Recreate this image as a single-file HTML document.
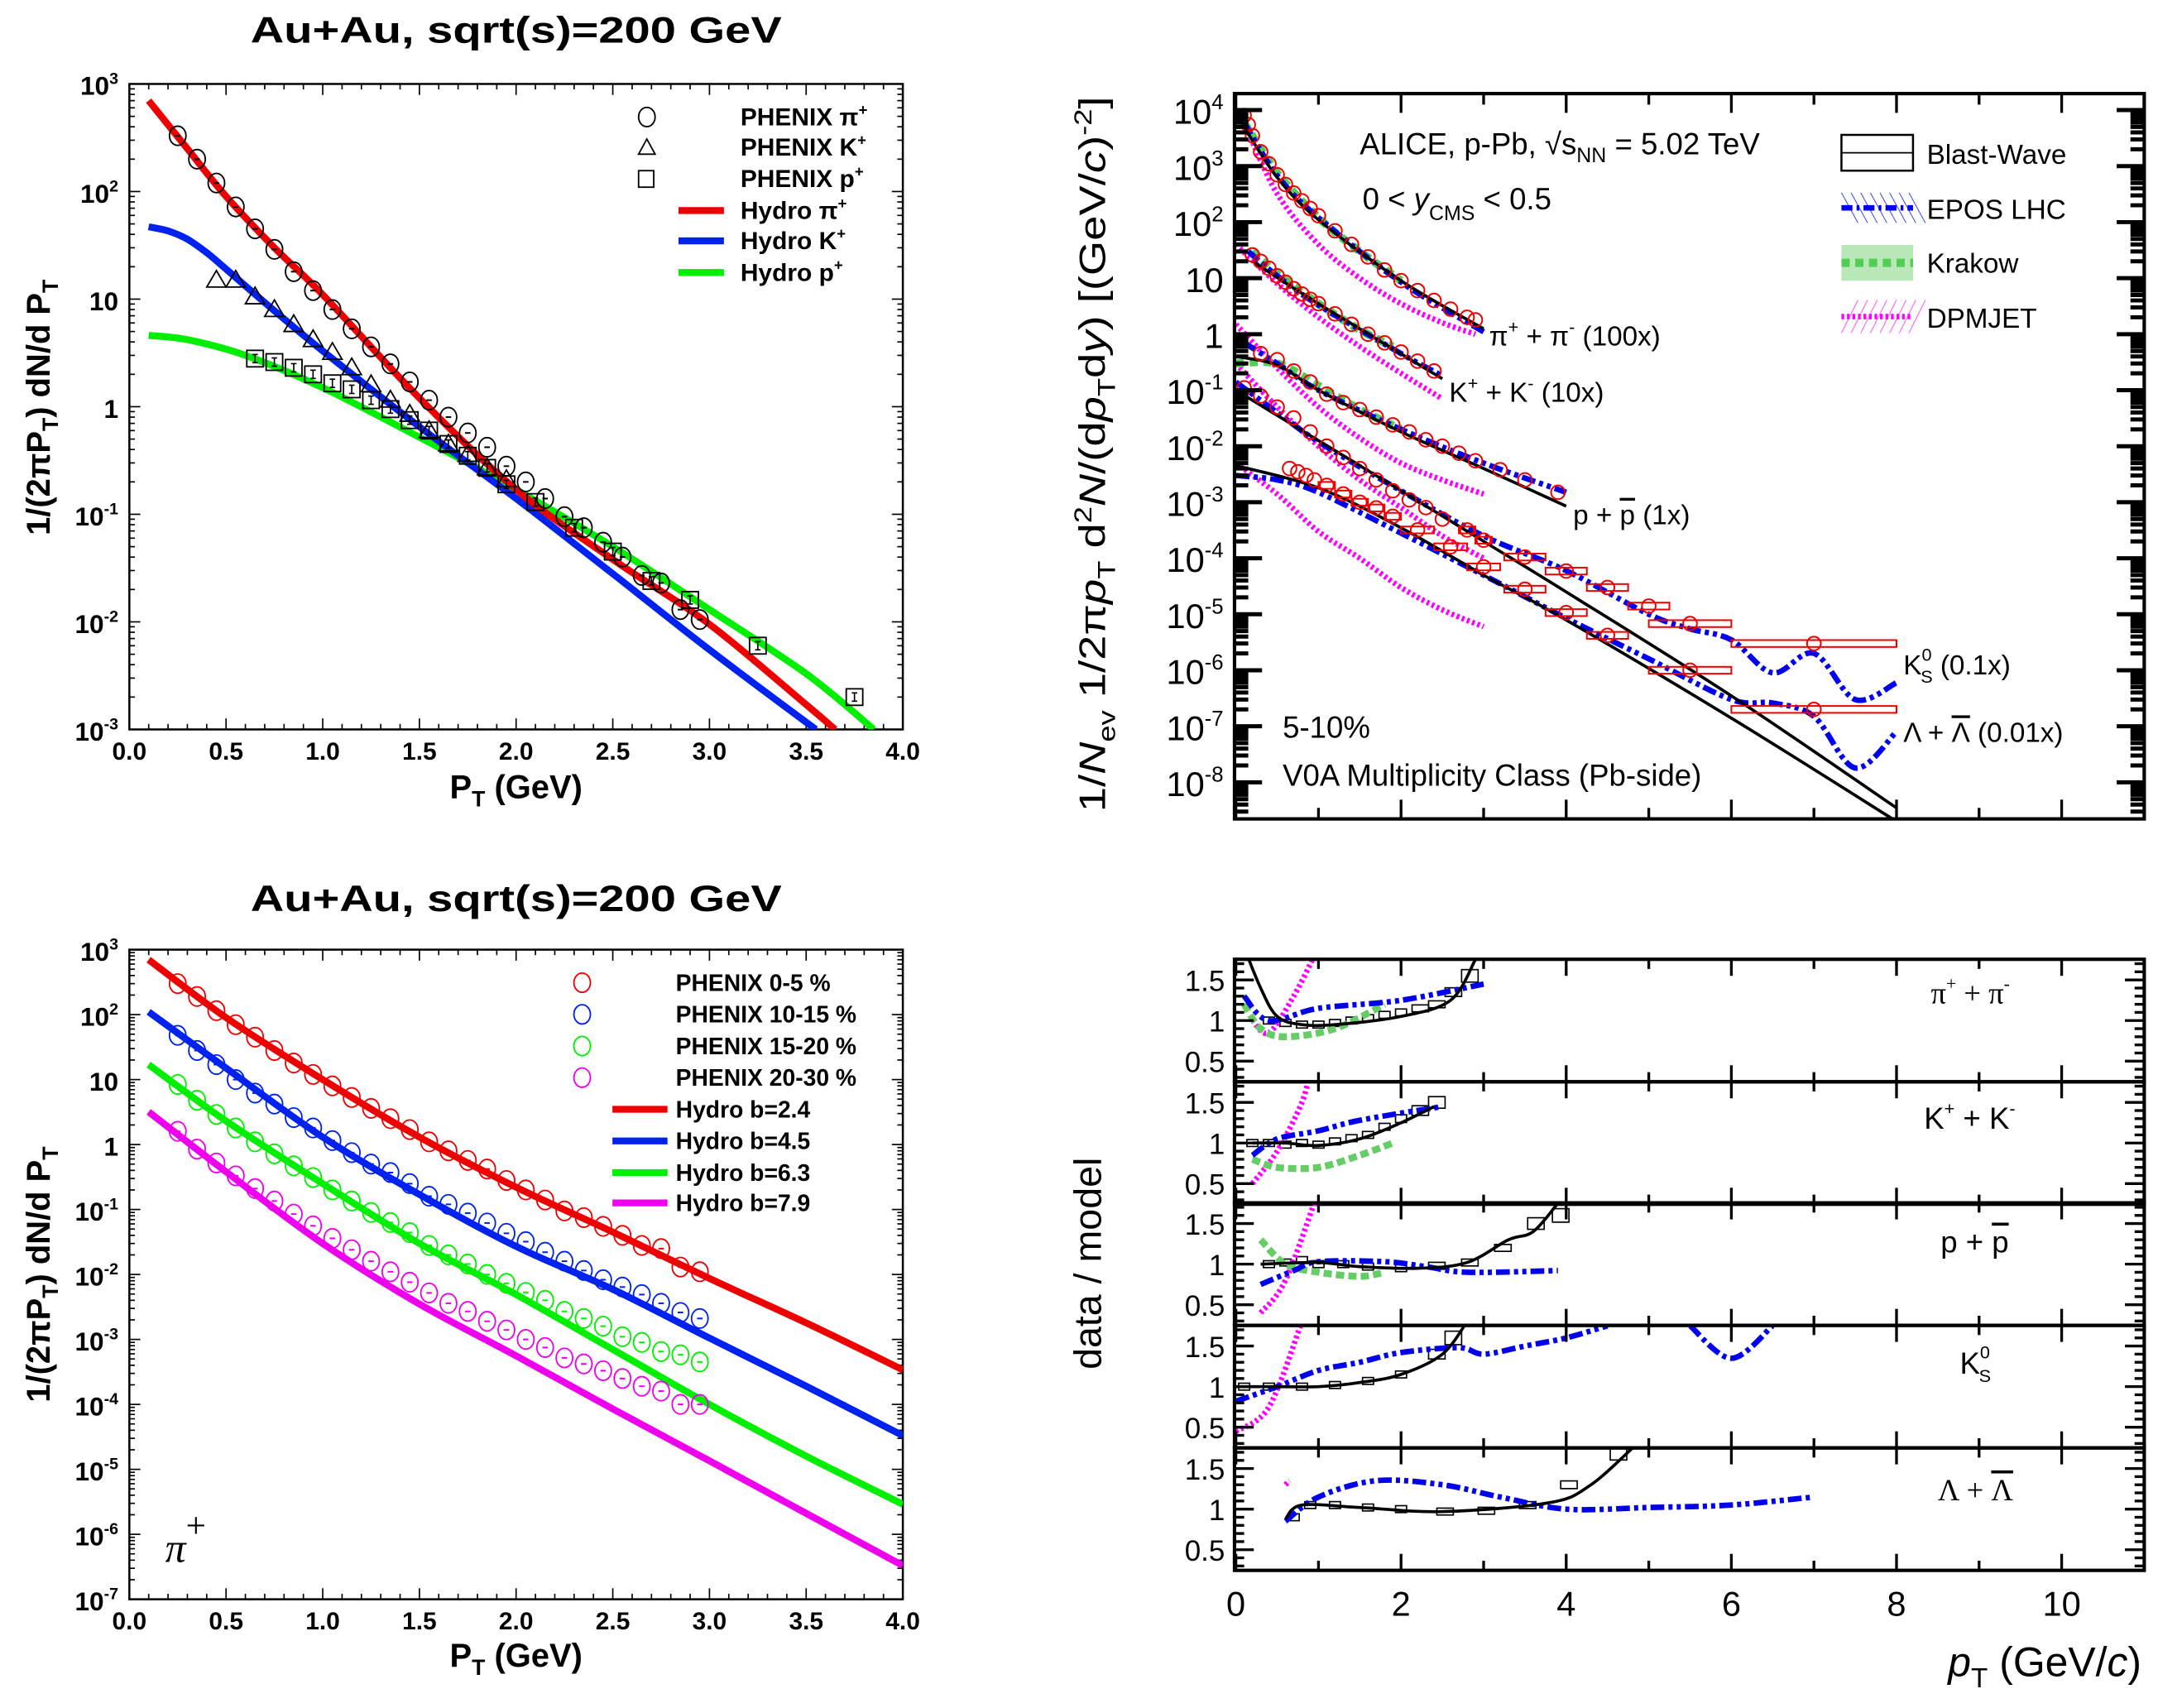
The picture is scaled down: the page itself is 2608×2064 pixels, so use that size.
<!DOCTYPE html>
<html><head><meta charset="utf-8"><style>
html,body{margin:0;padding:0;background:#fff}
svg{display:block}
.b{font-family:"Liberation Sans",sans-serif;font-weight:bold}
.n{font-family:"Liberation Sans",sans-serif}
</style></head><body>
<svg id="fig" xmlns="http://www.w3.org/2000/svg" width="2608" height="2064" viewBox="0 0 1568 1241" preserveAspectRatio="none">
<rect x="0" y="0" width="1568" height="1241" fill="#fff"/>
<g id="gA"></g>
<g id="gC"></g>
<g id="gB"></g>
<g id="gD"></g>

<text class="b" x="375" y="31" font-size="27" text-anchor="middle" textLength="386" lengthAdjust="spacingAndGlyphs">Au+Au, sqrt(s)=200 GeV</text>
<text class="b" x="375" y="662" font-size="27" text-anchor="middle" textLength="386" lengthAdjust="spacingAndGlyphs">Au+Au, sqrt(s)=200 GeV</text>
<text class="b" x="375" y="580" font-size="24" text-anchor="middle">P<tspan font-size="16" dy="6">T</tspan><tspan dy="-6"> (GeV)</tspan></text>
<text class="b" x="375" y="1211" font-size="24" text-anchor="middle">P<tspan font-size="16" dy="6">T</tspan><tspan dy="-6"> (GeV)</tspan></text>
<text class="b" transform="translate(36,296) rotate(-90)" font-size="24" text-anchor="middle">1/(2πP<tspan font-size="16" dy="6">T</tspan><tspan dy="-6">) dN/d P</tspan><tspan font-size="16" dy="6">T</tspan></text>
<text class="b" transform="translate(36,926) rotate(-90)" font-size="24" text-anchor="middle">1/(2πP<tspan font-size="16" dy="6">T</tspan><tspan dy="-6">) dN/d P</tspan><tspan font-size="16" dy="6">T</tspan></text>
<text x="120" y="1135" font-size="30" font-style="italic" font-family="Liberation Serif,serif">π<tspan dy="-18" font-size="26" font-style="normal">+</tspan></text>

<text class="n" transform="translate(803,330) rotate(-90)" font-size="27" text-anchor="middle" textLength="520" lengthAdjust="spacingAndGlyphs">1/<tspan font-style="italic">N</tspan><tspan font-size="18" dy="7">ev</tspan><tspan dy="-7">  1/2π</tspan><tspan font-style="italic">p</tspan><tspan font-size="18" dy="7">T</tspan><tspan dy="-7"> d</tspan><tspan font-size="18" dy="-10">2</tspan><tspan dy="10" font-style="italic">N</tspan><tspan>/(d</tspan><tspan font-style="italic">p</tspan><tspan font-size="18" dy="7">T</tspan><tspan dy="-7">d</tspan><tspan font-style="italic">y</tspan><tspan>) [(GeV/</tspan><tspan font-style="italic">c</tspan><tspan>)</tspan><tspan font-size="18" dy="-10">-2</tspan><tspan dy="10">]</tspan></text>
<text class="n" x="988" y="112" font-size="22">ALICE, p-Pb, √s<tspan font-size="15" dy="6">NN</tspan><tspan dy="-6"> = 5.02 TeV</tspan></text>
<text class="n" x="990" y="152" font-size="22">0 &lt; <tspan font-style="italic">y</tspan><tspan font-size="15" dy="8">CMS</tspan><tspan dy="-8"> &lt; 0.5</tspan></text>
<text class="n" x="932" y="536" font-size="22">5-10%</text>
<text class="n" x="932" y="571" font-size="22">V0A Multiplicity Class (Pb-side)</text>
<text class="n" x="1082" y="251" font-size="20">π<tspan font-size="13" dy="-9">+</tspan><tspan dy="9"> + π</tspan><tspan font-size="13" dy="-9">-</tspan><tspan dy="9"> (100x)</tspan></text>
<text class="n" x="1053" y="292" font-size="20">K<tspan font-size="13" dy="-9">+</tspan><tspan dy="9"> + K</tspan><tspan font-size="13" dy="-9">-</tspan><tspan dy="9"> (10x)</tspan></text>
<text class="n" x="1143" y="381" font-size="20">p + <tspan text-decoration="overline">p</tspan> (1x)</text>
<text class="n" x="1383" y="490" font-size="20">K<tspan font-size="13" dy="-10">0</tspan><tspan font-size="13" dx="-8" dy="16">S</tspan><tspan dy="-6"> (0.1x)</tspan></text>
<text class="n" x="1383" y="539" font-size="20">Λ + <tspan text-decoration="overline">Λ</tspan> (0.01x)</text>
<text class="n" x="1400" y="119" font-size="20">Blast-Wave</text>
<text class="n" x="1400" y="159" font-size="20">EPOS LHC</text>
<text class="n" x="1400" y="198" font-size="20">Krakow</text>
<text class="n" x="1400" y="238" font-size="20">DPMJET</text>

<text class="n" transform="translate(800,918) rotate(-90)" font-size="28" text-anchor="middle">data / model</text>
<text class="n" x="1556" y="1218" font-size="30" text-anchor="end"><tspan font-style="italic">p</tspan><tspan font-size="20" dy="8">T</tspan><tspan dy="-8"> (GeV/</tspan><tspan font-style="italic">c</tspan>)</text>
<text x="1403" y="729" font-size="22" font-family="Liberation Serif,serif">π<tspan font-size="13" dy="-10">+</tspan><tspan dy="10"> + π</tspan><tspan font-size="13" dy="-10">-</tspan></text>
<text class="n" x="1398" y="820" font-size="22">K<tspan font-size="13" dy="-10">+</tspan><tspan dy="10"> + K</tspan><tspan font-size="13" dy="-10">-</tspan></text>
<text class="n" x="1410" y="910" font-size="22">p + <tspan text-decoration="overline">p</tspan></text>
<text class="n" x="1424" y="998" font-size="22">K<tspan font-size="13" dy="-11">0</tspan><tspan font-size="13" dx="-8" dy="17">S</tspan></text>
<text x="1408" y="1090" font-size="22" font-family="Liberation Serif,serif">Λ + <tspan text-decoration="overline">Λ</tspan></text>
</svg>
<script>
// ---------- Panel A data ----------
const aPtPion=[0.25,0.35,0.45,0.55,0.65,0.75,0.85,0.95,1.05,1.15,1.25,1.35,1.45,1.55,1.65,1.75,1.85,1.95,2.05,2.15,2.25,2.35,2.45,2.55,2.65,2.75,2.85,2.95];
const aPion=[330,200,120,72,45,29,18,12,8,5.3,3.6,2.5,1.7,1.15,0.8,0.57,0.42,0.28,0.2,0.14,0.095,0.075,0.055,0.04,0.027,0.023,0.013,0.0105];
const aPtKaon=[0.45,0.55,0.65,0.75,0.85,0.95,1.05,1.15,1.25,1.35,1.45,1.55,1.65,1.75,1.85,1.95];
const aKaon=[15,15,10.5,8,5.8,4.2,3.2,2.3,1.6,1.15,0.85,0.6,0.45,0.36,0.27,0.21];
const aPtProton=[0.65,0.75,0.85,0.95,1.05,1.15,1.25,1.35,1.45,1.55,1.65,1.75,1.85,1.95,2.1,2.3,2.5,2.7,2.9,3.25,3.75];
const aProton=[2.8,2.6,2.3,2.0,1.65,1.45,1.15,0.95,0.75,0.6,0.45,0.35,0.27,0.19,0.13,0.075,0.045,0.024,0.016,0.006,0.002];
const aHydroPt=[0.1,0.3,0.5,0.75,1.0,1.5,2.0,2.5,3.0,3.5,3.65];
const aHydroPion=[700,250,90,30,11,1.2,0.17,0.038,0.0095,0.0017,0.001];
const aHydroKPt=[0.1,0.2,0.3,0.4,0.5,0.75,1.0,1.5,2.0,2.5,3.0,3.55];
const aHydroKaon=[47,43,36,27,19,7.8,3.3,0.65,0.14,0.028,0.0055,0.001];
const aHydroPPt=[0.1,0.3,0.6,1.0,1.5,2.0,2.5,3.0,3.5,3.85];
const aHydroProton=[4.6,4.2,3.0,1.5,0.52,0.17,0.05,0.013,0.0033,0.001];
// ---------- Panel C data ----------
const cPt=[0.25,0.35,0.45,0.55,0.65,0.75,0.85,0.95,1.05,1.15,1.25,1.35,1.45,1.55,1.65,1.75,1.85,1.95,2.05,2.15,2.25,2.35,2.45,2.55,2.65,2.75,2.85,2.95];
const c0005=[300,190,115,70,45,28,18,12,8,5.3,3.6,2.5,1.7,1.1,0.8,0.57,0.42,0.28,0.2,0.14,0.095,0.075,0.055,0.04,0.028,0.025,0.013,0.011];
const c1015=[48,28,17,10,6.2,4.2,2.6,1.8,1.15,0.75,0.5,0.37,0.25,0.16,0.12,0.088,0.062,0.043,0.032,0.022,0.016,0.0115,0.0083,0.0064,0.0049,0.0036,0.0026,0.0021];
const c1520=[8.4,4.8,2.9,1.8,1.1,0.72,0.47,0.31,0.2,0.135,0.09,0.063,0.044,0.028,0.02,0.0145,0.01,0.0073,0.0053,0.004,0.0027,0.0021,0.0016,0.0011,0.0009,0.00065,0.00058,0.00045];
const c2030=[1.6,0.85,0.52,0.33,0.21,0.135,0.085,0.056,0.036,0.024,0.016,0.011,0.0076,0.0052,0.0036,0.0027,0.0019,0.0014,0.001,0.00075,0.00052,0.00042,0.00033,0.00025,0.00019,0.00016,0.0001,0.0001];
const cHydroPt=[0.1,0.5,1.0,1.5,2.0,2.5,3.0,3.5,4.0];
const cHydroB24=[700,90,10,1.3,0.22,0.045,0.0087,0.0018,0.00034];
const cHydroB45=[110,15,1.3,0.17,0.027,0.0059,0.00105,0.00019,0.000033];
const cHydroB63=[17,2.3,0.25,0.03,0.0049,0.0007,0.0001,0.000016,0.0000029];
const cHydroB79=[3.2,0.38,0.03,0.0035,0.00056,0.000085,0.0000135,0.0000021,0.00000033];
// ---------- Panel B data (values already scaled) ----------
const bPtPion=[0.1,0.15,0.2,0.3,0.4,0.5,0.6,0.7,0.8,0.9,1.0,1.2,1.4,1.6,1.8,2.0,2.2,2.4,2.6,2.8,2.9];
const bPion=[8000,5500,3500,1800,1100,700,470,330,240,175,130,70,40,24,14,9,6,4,2.8,2.0,1.8];
const bPtKaon=[0.2,0.3,0.4,0.5,0.6,0.7,0.8,0.9,1.0,1.2,1.4,1.6,1.8,2.0,2.2,2.4];
const bKaon=[26,20,15,11,8.5,6.5,5.2,4.2,3.5,2.3,1.5,1.0,0.7,0.48,0.33,0.22];
const bPtProton=[0.3,0.5,0.7,0.9,1.1,1.3,1.5,1.7,1.9,2.1,2.3,2.5,2.7,2.9,3.2,3.5,3.9];
const bProton=[0.45,0.35,0.22,0.14,0.085,0.06,0.045,0.033,0.024,0.018,0.013,0.01,0.0075,0.0055,0.0038,0.0025,0.0015];
const bPtK0s=[0.1,0.3,0.5,0.7,0.9,1.1,1.3,1.5,1.7,1.9,2.1,2.3,2.5,2.8,3.0,3.5,4.0,4.5,5.0,5.5,7.0];
const bK0s=[0.11,0.079,0.05,0.032,0.018,0.01,0.0063,0.004,0.0025,0.0016,0.0011,0.0008,0.0005,0.00032,0.00021,0.000105,0.000059,0.00003,0.000014,0.0000068,0.000003];
const bK0sHalfWidth=[0.05,0.05,0.05,0.05,0.05,0.05,0.05,0.05,0.05,0.05,0.05,0.05,0.05,0.1,0.1,0.25,0.25,0.25,0.25,0.5,1.0];
const bPtLambda=[0.65,0.75,0.85,0.95,1.1,1.3,1.5,1.7,1.9,2.2,2.6,3.0,3.5,4.0,4.5,5.5,7.0];
const bLambda=[0.004,0.0035,0.003,0.0025,0.002,0.0014,0.001,0.00079,0.00056,0.00032,0.00016,0.00007,0.000028,0.0000107,0.0000042,0.000001,0.0000002];
const bLambdaHalfWidth=[0.05,0.05,0.05,0.05,0.1,0.1,0.1,0.1,0.1,0.2,0.2,0.2,0.25,0.25,0.25,0.5,1.0];
const bwPionPt=[0.1,0.5,1,2,3], bwPion=[5000,630,110,9,1.25];
const bwKaonPt=[0.2,1,2.5], bwKaon=[20,3.5,0.16];
const bwProtonPt=[0,0.5,1,2,3,4], bwProton=[0.4,0.28,0.1,0.018,0.004,0.00085];
const bwK0sPt=[0,1,2,3,4,6,8], bwK0s=[0.1,0.0126,0.0016,0.0002,0.000025,0.00000035,0.0000000035];
const bwLambdaPt=[0,1,2,3,4,6,8], bwLambda=[0.0045,0.0018,0.00035,0.00005,0.0000079,0.00000014,0.000000002];
const eposPionPt=[0.1,0.5,1,2,3], eposPion=[6000,680,120,8.5,1.1];
const eposKaonPt=[0.15,0.5,1,2,2.5], eposKaon=[30,11,3.3,0.45,0.18];
const eposProtonPt=[0.1,0.5,1,2,3,4], eposProton=[0.7,0.3,0.1,0.02,0.005,0.0015];
const eposK0sPt=[0,0.5,1,2,3,4,5,5.5,6,6.5,7,7.5,8], eposK0s=[0.14,0.04,0.012,0.0016,0.00025,0.00006,0.00001,0.0000055,0.0000035,0.0000009,0.000002,0.0000003,0.0000006];
const eposLambdaPt=[0,0.5,1,2,3,4,5,6,6.5,7,7.5,8], eposLambda=[0.003,0.0025,0.0015,0.00028,0.00005,0.0000085,0.0000016,0.0000003,0.00000026,0.00000015,0.000000018,0.00000008];
const krakowPionPt=[0.1,0.5,1,1.5,2], krakowPion=[6000,750,120,30,9];
const krakowKaonPt=[0.2,0.5,1,1.5,1.9], krakowKaon=[30,12,3.5,1.2,0.6];
const krakowProtonPt=[0,0.5,1,1.5,2], krakowProton=[0.3,0.3,0.12,0.045,0.02];
const dpmPionPt=[0.1,0.5,1,1.5,2,2.5,2.9], dpmPion=[6000,320,40,10,3.5,1.6,1.0];
const dpmKaonPt=[0,0.5,1,1.5,2,2.5], dpmKaon=[40,8,2,0.6,0.2,0.07];
const dpmProtonPt=[0,0.5,1,1.5,2,2.5,3], dpmProton=[1.5,0.25,0.05,0.014,0.005,0.0025,0.0014];
const dpmK0sPt=[0,0.5,1,1.5,2,2.5,3], dpmK0s=[0.3,0.05,0.01,0.0025,0.0008,0.00025,0.0001];
const dpmLambdaPt=[0,0.5,1,1.5,2,2.5,3], dpmLambda=[0.005,0.0014,0.0003,0.0001,0.00003,0.000012,0.000006];
// ---------- Panel D data (ratios) ----------
const rBwPt=[[0.1,0.3,0.5,0.8,1.2,2,2.6,2.9],[0.2,0.6,1,1.5,2,2.4],[0.3,1,1.5,2.2,2.8,3.3,3.6,3.9],[0,0.5,1,1.5,2,2.5,2.8],[0.6,0.8,1.5,2.5,3.8,4.3,4.8]];
const rBw=[[1.9,1.4,1.05,0.95,0.95,1.05,1.25,1.75],[1.0,1.0,0.97,1.05,1.25,1.45],[1.0,1.02,0.97,0.95,1.02,1.3,1.4,1.75],[1.0,1.0,1.0,1.05,1.15,1.4,1.8],[0.88,1.05,1.02,0.97,1.08,1.3,1.75]];
const rEposPt=[[0.1,0.4,1,2,3],[0.2,0.5,1,1.5,2.5],[0.3,0.7,1,1.8,2.3,2.8,3.9],[0,0.5,1,1.5,2,2.7,3.0,3.5,4,4.5],[0.6,1,1.7,2.5,3.2,4,5,6,7]];
const rEpos=[[1.3,1.0,1.15,1.25,1.45],[0.85,1.05,1.15,1.28,1.45],[0.75,0.92,1.03,1.03,0.97,0.9,0.92],[0.82,1.0,1.2,1.3,1.42,1.48,1.4,1.5,1.6,1.75],[0.85,1.15,1.35,1.3,1.15,1.0,1.02,1.05,1.15]];
const rEposK0sTailPt=[5.5,6,6.5], rEposK0sTail=[1.75,1.35,1.75];
const rKrakowPt=[[0.1,0.3,0.6,1.2,1.8],[0.2,0.5,1,1.5,1.9],[0.3,0.6,1,1.5,1.8]];
const rKrakow=[[1.2,0.9,0.8,0.9,1.2],[0.8,0.7,0.7,0.85,1.0],[1.3,1.0,0.9,0.85,0.9]];
const rDpmPt=[[0.2,0.4,0.7,1.0],[0.2,0.5,0.8,0.9],[0.3,0.6,1.0],[0,0.4,0.8],[0.6,0.65]];
const rDpm=[[1.0,0.85,1.3,1.9],[0.5,0.9,1.5,1.9],[0.4,0.8,1.9],[0.45,0.75,1.8],[1.3,1.35]];
const rBoxPt=[[0.4,0.6,0.8,1.0,1.2,1.4,1.6,1.8,2.0,2.2,2.4,2.6,2.8],[0.2,0.4,0.6,0.8,1.0,1.2,1.4,1.6,1.8,2.0,2.2,2.4],[0.4,0.6,0.8,1.0,1.3,1.6,2.0,2.4,2.8,3.2,3.6,3.9],[0.1,0.4,0.8,1.2,1.6,2.0,2.4,2.6],[0.7,0.9,1.2,1.6,2.0,2.5,3.0,3.5,4.0,4.6]];
const rBox=[[1.0,0.97,0.95,0.95,0.97,1.0,1.03,1.07,1.1,1.15,1.2,1.35,1.55],[1.0,1.0,0.98,1.0,0.98,1.02,1.06,1.1,1.2,1.3,1.4,1.5],[1.0,1.02,1.05,1.0,1.0,0.97,0.95,0.98,1.02,1.2,1.5,1.6],[1.0,1.0,1.0,1.02,1.07,1.15,1.4,1.6],[0.9,1.05,1.05,1.02,1.0,0.97,0.98,1.05,1.3,1.7]];

const NS='http://www.w3.org/2000/svg';
function el(parent,tag,attrs,name,inter){
  const e=document.createElementNS(NS,tag);
  for(const k in attrs) e.setAttribute(k,attrs[k]);
  
  
  parent.appendChild(e);return e;
}
const L10=Math.log10;
function crPath(pts){
  if(pts.length<3){return 'M'+pts.map(p=>p[0].toFixed(1)+','+p[1].toFixed(1)).join(' L');}
  let d='M'+pts[0][0].toFixed(1)+','+pts[0][1].toFixed(1);
  for(let i=0;i<pts.length-1;i++){
    const p0=pts[Math.max(0,i-1)],p1=pts[i],p2=pts[i+1],p3=pts[Math.min(pts.length-1,i+2)];
    const c1=[p1[0]+(p2[0]-p0[0])/6,p1[1]+(p2[1]-p0[1])/6],c2=[p2[0]-(p3[0]-p1[0])/6,p2[1]-(p3[1]-p1[1])/6];
    d+=' C'+c1.map(v=>v.toFixed(1))+' '+c2.map(v=>v.toFixed(1))+' '+p2.map(v=>v.toFixed(1));
  }
  return d;
}
function curve(g,xs,ys,X,Y,style,name){
  const pts=xs.map((x,i)=>[X(x),Y(ys[i])]);
  const a=Object.assign({d:crPath(pts),fill:'none'},style);
  return el(g,'path',a,name,false);
}
function supLabel(g,x,y,base,exp,size,anchor,name,bold){
  const t=el(g,'text',{x:x,y:y,'font-size':size,'text-anchor':anchor,'class':bold?'b':'n'},name,false);
  t.textContent=base;
  if(exp!==null){const s=document.createElementNS(NS,'tspan');s.setAttribute('font-size',size*0.62);s.setAttribute('dy',-size*0.42);s.textContent=exp;t.appendChild(s);}
  return t;
}
function logAxisY(g,x0,x1,Y,dmin,dmax,maj,mnr,sw,labelFn,ytop,ybot){
  for(let d=dmin;d<=dmax;d++){
    for(let m=1;m<10;m++){
      const v=Math.pow(10,d)*m; if(L10(v)>dmax+1e-9) break;
      const y=Y(v); if(y<ytop||y>ybot) continue;
      const len=m===1?maj:mnr;
      el(g,'line',{x1:x0,y1:y,x2:x0+len,y2:y,stroke:'#000','stroke-width':sw},'y-tick',false);
      el(g,'line',{x1:x1,y1:y,x2:x1-len,y2:y,stroke:'#000','stroke-width':sw},'y-tick-right',false);
    }
    if(labelFn) labelFn(d,Y(Math.pow(10,d)));
  }
}
function clipRect(id,x,y,w,h){
  const svg=document.getElementById('fig');
  let defs=svg.querySelector('defs'); if(!defs){defs=document.createElementNS(NS,'defs');svg.insertBefore(defs,svg.firstChild);}
  const cp=document.createElementNS(NS,'clipPath');cp.setAttribute('id',id);
  const r=document.createElementNS(NS,'rect');r.setAttribute('x',x);r.setAttribute('y',y);r.setAttribute('width',w);r.setAttribute('height',h);
  cp.appendChild(r);defs.appendChild(cp);
}

// ================= Panel A =================
(function(){
  const g=document.getElementById('gA');
  const x0=94,x1=656,y0=61,y1=530;
  const X=p=>x0+p*(x1-x0)/4, Y=v=>y0+(3-L10(v))*(y1-y0)/6;
  el(g,'rect',{x:x0,y:y0,width:x1-x0,height:y1-y0,fill:'none',stroke:'#000','stroke-width':1.5},'plot-frame',false);
  for(let i=0;i<=40;i++){const p=i*0.1;const len=i%5===0?8:4;
    el(g,'line',{x1:X(p),y1:y1,x2:X(p),y2:y1-len,stroke:'#000','stroke-width':1},'x-tick',false);
    el(g,'line',{x1:X(p),y1:y0,x2:X(p),y2:y0+len,stroke:'#000','stroke-width':1},'x-tick-top',false);
    if(i%5===0){const t=el(g,'text',{x:X(p),y:552,'font-size':18,'text-anchor':'middle','class':'b'},'x-tick-label',false);t.textContent=p.toFixed(1);}
  }
  logAxisY(g,x0,x1,Y,-3,3,8,4,1,(d,y)=>{
    const lab=d===0?['1',null]:d===1?['10',null]:['10',String(d)];
    supLabel(g,86,y+8,lab[0],lab[1],19,'end','y-tick-label',true);
  },y0-1,y1+1);
  const gc=el(g,'g',{'clip-path':'url(#clipA)'},'curves',false);
  clipRect('clipA',x0,y0,x1-x0,y1-y0);
  curve(gc,aHydroPPt,aHydroProton,X,Y,{stroke:'#00ee00','stroke-width':5},'hydro-proton-curve');
  curve(gc,aHydroKPt,aHydroKaon,X,Y,{stroke:'#0022ee','stroke-width':5},'hydro-kaon-curve');
  curve(gc,aHydroPt,aHydroPion,X,Y,{stroke:'#ee0000','stroke-width':5},'hydro-pion-curve');
  aPtPion.forEach((p,i)=>{el(g,'ellipse',{cx:X(p),cy:Y(aPion[i]),rx:6,ry:7,fill:'none',stroke:'#000','stroke-width':1.1},'pion-point',false);
    el(g,'line',{x1:X(p)-2,y1:Y(aPion[i]),x2:X(p)+2,y2:Y(aPion[i]),stroke:'#000','stroke-width':1.2},'pion-error-bar',false);});
  aPtKaon.forEach((p,i)=>{const x=X(p),y=Y(aKaon[i]);el(g,'path',{d:`M${x-7},${y+5} L${x},${y-7} L${x+7},${y+5} Z`,fill:'none',stroke:'#000','stroke-width':1.1},'kaon-point',false);});
  aPtProton.forEach((p,i)=>{const x=X(p),y=Y(aProton[i]);el(g,'rect',{x:x-6,y:y-6,width:12,height:12,fill:'none',stroke:'#000','stroke-width':1.1},'proton-point',false);
    el(g,'line',{x1:x-2,y1:y-3,x2:x+2,y2:y-3,stroke:'#000','stroke-width':1},'proton-error-bar',false);
    el(g,'line',{x1:x,y1:y-3,x2:x,y2:y+3,stroke:'#000','stroke-width':1},'proton-error-bar',false);
    el(g,'line',{x1:x-2,y1:y+3,x2:x+2,y2:y+3,stroke:'#000','stroke-width':1},'proton-error-bar',false);});
  const ly=[91,113,136,159,181,204];
  const names=['PHENIX π','PHENIX K','PHENIX p','Hydro π','Hydro K','Hydro p'];
  const cols=['#ee0000','#0022ee','#00ee00'];
  el(g,'ellipse',{cx:470,cy:ly[0]-6,rx:6,ry:7,fill:'none',stroke:'#000','stroke-width':1.1},'legend-pion-marker',false);
  el(g,'path',{d:`M464,${ly[1]-1} L470,${ly[1]-12} L476,${ly[1]-1} Z`,fill:'none',stroke:'#000','stroke-width':1.1},'legend-kaon-marker',false);
  el(g,'rect',{x:464,y:ly[2]-12,width:11,height:12,fill:'none',stroke:'#000','stroke-width':1.1},'legend-proton-marker',false);
  for(let i=3;i<6;i++) el(g,'line',{x1:493,y1:ly[i]-6,x2:526,y2:ly[i]-6,stroke:cols[i-3],'stroke-width':5},'legend-hydro-line',false);
  names.forEach((n,i)=>{supLabel(g,538,ly[i],n,'+',18,'start','legend-entry',true);});
})();

// ================= Panel C =================
(function(){
  const g=document.getElementById('gC');
  const x0=94,x1=656,y0=690,y1=1162;
  const X=p=>x0+p*(x1-x0)/4, Y=v=>y0+(3-L10(v))*(y1-y0)/10;
  el(g,'rect',{x:x0,y:y0,width:x1-x0,height:y1-y0,fill:'none',stroke:'#000','stroke-width':1.5},'plot-frame',false);
  for(let i=0;i<=40;i++){const p=i*0.1;const len=i%5===0?8:4;
    el(g,'line',{x1:X(p),y1:y1,x2:X(p),y2:y1-len,stroke:'#000','stroke-width':1},'x-tick',false);
    el(g,'line',{x1:X(p),y1:y0,x2:X(p),y2:y0+len,stroke:'#000','stroke-width':1},'x-tick-top',false);
    if(i%5===0){const t=el(g,'text',{x:X(p),y:1184,'font-size':18,'text-anchor':'middle','class':'b'},'x-tick-label',false);t.textContent=p.toFixed(1);}
  }
  logAxisY(g,x0,x1,Y,-7,3,8,4,1,(d,y)=>{
    const lab=d===0?['1',null]:d===1?['10',null]:['10',String(d)];
    supLabel(g,86,y+8,lab[0],lab[1],19,'end','y-tick-label',true);
  },y0-1,y1+1);
  clipRect('clipC',x0,y0,x1-x0,y1-y0);
  const gc=el(g,'g',{'clip-path':'url(#clipC)'},'curves',false);
  const cols=['#ee0000','#0022ee','#00ee00','#ee00ee'];
  const hyd=[cHydroB24,cHydroB45,cHydroB63,cHydroB79], dat=[c0005,c1015,c1520,c2030];
  hyd.forEach((h,k)=>curve(gc,cHydroPt,h,X,Y,{stroke:cols[k],'stroke-width':5},'hydro-curve'));
  dat.forEach((s,k)=>cPt.forEach((p,i)=>{
    el(g,'ellipse',{cx:X(p),cy:Y(s[i]),rx:6,ry:7,fill:'none',stroke:cols[k],'stroke-width':1.1},'data-point',false);
    el(g,'line',{x1:X(p)-2,y1:Y(s[i]),x2:X(p)+2,y2:Y(s[i]),stroke:cols[k],'stroke-width':1.2},'error-bar',false);}));
  const ly=[720,743,766,789,812,835,858,880];
  const names=['PHENIX 0-5 %','PHENIX 10-15 %','PHENIX 15-20 %','PHENIX 20-30 %','Hydro b=2.4','Hydro b=4.5','Hydro b=6.3','Hydro b=7.9'];
  names.forEach((n,i)=>{
    if(i<4) el(g,'ellipse',{cx:423,cy:ly[i]-6,rx:6,ry:7,fill:'none',stroke:cols[i],'stroke-width':1.1},'legend-marker',false);
    else el(g,'line',{x1:445,y1:ly[i]-6,x2:485,y2:ly[i]-6,stroke:cols[i-4],'stroke-width':5},'legend-line',false);
    const t=el(g,'text',{x:491,y:ly[i],'font-size':17,'class':'b'},'legend-entry',false);t.textContent=n;
  });
})();

// ================= Panel B =================
(function(){
  const g=document.getElementById('gB');
  const x0=897,x1=1558,y0=68,y1=595;
  const X=p=>898+p*60, Y=v=>80+(4-L10(v))*40.7;
  clipRect('clipB',x0,y0,x1-x0,y1-y0);
  const gc=el(g,'g',{'clip-path':'url(#clipB)'},'curves',false);
  const mag={stroke:'#ff00ff','stroke-width':4,'stroke-dasharray':'2,2'};
  const blu={stroke:'#0000ee','stroke-width':4,'stroke-dasharray':'10,3,3,3,3,3'};
  const grn={stroke:'#55cc55','stroke-width':6,'stroke-dasharray':'6,4'};
  const blk={stroke:'#000','stroke-width':2.2};
  [[dpmPionPt,dpmPion],[dpmKaonPt,dpmKaon],[dpmProtonPt,dpmProton],[dpmK0sPt,dpmK0s],[dpmLambdaPt,dpmLambda]].forEach(s=>curve(gc,s[0],s[1],X,Y,mag,'dpmjet-curve'));
  [[krakowPionPt,krakowPion],[krakowKaonPt,krakowKaon],[krakowProtonPt,krakowProton]].forEach(s=>curve(gc,s[0],s[1],X,Y,grn,'krakow-curve'));
  [[eposPionPt,eposPion],[eposKaonPt,eposKaon],[eposProtonPt,eposProton],[eposK0sPt,eposK0s],[eposLambdaPt,eposLambda]].forEach(s=>curve(gc,s[0],s[1],X,Y,blu,'epos-curve'));
  [[bwPionPt,bwPion],[bwKaonPt,bwKaon],[bwProtonPt,bwProton],[bwK0sPt,bwK0s],[bwLambdaPt,bwLambda]].forEach(s=>curve(gc,s[0],s[1],X,Y,blk,'blast-wave-curve'));
  const red='#ee0000';
  function pts(ptA,vA,hw){ptA.forEach((p,i)=>{
    const x=X(p),y=Y(vA[i]);
    if(hw&&hw[i]>0.06){el(gc,'rect',{x:X(p-hw[i]),y:y-2.5,width:X(p+hw[i])-X(p-hw[i]),height:5,fill:'none',stroke:red,'stroke-width':1.2},'syst-box',false);}
    el(gc,'circle',{cx:x,cy:y,r:5,fill:'none',stroke:red,'stroke-width':1.2},'data-point',false);
  });}
  pts(bPtPion,bPion);pts(bPtKaon,bKaon);pts(bPtProton,bProton);pts(bPtK0s,bK0s,bK0sHalfWidth);pts(bPtLambda,bLambda,bLambdaHalfWidth);
  el(g,'rect',{x:x0,y:y0,width:x1-x0,height:y1-y0,fill:'none',stroke:'#000','stroke-width':2.5},'plot-frame',false);
  for(let i=0;i<=11;i++){const len=i%2===0?14:8;
    el(g,'line',{x1:X(i),y1:y0,x2:X(i),y2:y0+len,stroke:'#000','stroke-width':2},'x-tick-top',false);
    el(g,'line',{x1:X(i),y1:y1,x2:X(i),y2:y1-len,stroke:'#000','stroke-width':2},'x-tick',false);}
  logAxisY(g,x0,x1,Y,-9,4,20,10,3,(d,y)=>{
    if(d<-8)return;
    const lab=d===0?['1',null]:d===1?['10',null]:['10',String(d)];
    supLabel(g,889,y+10,lab[0],lab[1],25,'end','y-tick-label',false);
  },y0+2,y1-2);
  el(g,'rect',{x:1338,y:98,width:52,height:26,fill:'none',stroke:'#000','stroke-width':1.5},'legend-blast-wave-marker',false);
  el(g,'line',{x1:1338,y1:111,x2:1390,y2:111,stroke:'#000','stroke-width':1},'legend-blast-wave-line',false);
  for(let k=0;k<8;k++) el(g,'line',{x1:1338+k*7,y1:140,x2:1350+k*7,y2:162,stroke:'#3344ff','stroke-width':0.6},'legend-epos-hatch',false);
  el(g,'line',{x1:1338,y1:151,x2:1390,y2:151,stroke:'#0000ee','stroke-width':4,'stroke-dasharray':'8,3,2,3'},'legend-epos-line',false);
  el(g,'rect',{x:1338,y:178,width:52,height:26,fill:'#b8e8b8',stroke:'none'},'legend-krakow-band',false);
  el(g,'line',{x1:1338,y1:191,x2:1390,y2:191,stroke:'#55cc55','stroke-width':6,'stroke-dasharray':'6,4'},'legend-krakow-line',false);
  for(let k=0;k<8;k++) el(g,'line',{x1:1338+k*7,y1:242,x2:1350+k*7,y2:218,stroke:'#ff66ff','stroke-width':0.7},'legend-dpmjet-hatch',false);
  el(g,'line',{x1:1338,y1:230,x2:1390,y2:230,stroke:'#ff00ff','stroke-width':4,'stroke-dasharray':'2,2'},'legend-dpmjet-line',false);
})();

// ================= Panel D =================
(function(){
  const g=document.getElementById('gD');
  const x0=897,x1=1558;
  const X=p=>898+p*60;
  const tops=[697,786,874,963,1052], H=89;
  tops.forEach((t,k)=>{
    const Y=r=>t+15+(1.5-r)*59;
    clipRect('clipD'+k,x0,t,x1-x0,H);
    const gc=el(g,'g',{'clip-path':'url(#clipD'+k+')'},'ratio-subpanel-'+k,false);
    rBoxPt[k].forEach((p,i)=>{const h=Math.max(5,(rBox[k][i]-0.9)*14);
      el(gc,'rect',{x:X(p)-4,y:Y(rBox[k][i])-h/2,width:8+(p>2?4:0),height:h,fill:'none',stroke:'#000','stroke-width':1},'data-syst-box',false);});
    if(rDpmPt[k]) curve(gc,rDpmPt[k],rDpm[k],X,Y,{stroke:'#ff00ff','stroke-width':4,'stroke-dasharray':'2,2'},'dpmjet-ratio');
    if(k<3) curve(gc,rKrakowPt[k],rKrakow[k],X,Y,{stroke:'#66cc66','stroke-width':5,'stroke-dasharray':'6,3'},'krakow-ratio');
    curve(gc,rEposPt[k],rEpos[k],X,Y,{stroke:'#0000ee','stroke-width':4,'stroke-dasharray':'10,3,3,3,3,3'},'epos-ratio');
    if(k===3) curve(gc,rEposK0sTailPt,rEposK0sTail,X,Y,{stroke:'#0000ee','stroke-width':4,'stroke-dasharray':'10,3,3,3'},'epos-ratio-tail');
    curve(gc,rBwPt[k],rBw[k],X,Y,{stroke:'#000','stroke-width':2.2},'blast-wave-ratio');
    el(g,'rect',{x:x0,y:t,width:x1-x0,height:H,fill:'none',stroke:'#000','stroke-width':2.5},'ratio-frame',false);
    for(let i=0;i<=11;i++){const len=i%2===0?12:7;
      el(g,'line',{x1:X(i),y1:t,x2:X(i),y2:t+len,stroke:'#000','stroke-width':2},'x-tick-top',false);
      el(g,'line',{x1:X(i),y1:t+H,x2:X(i),y2:t+H-len,stroke:'#000','stroke-width':2},'x-tick',false);}
    for(let j=3;j<=17;j++){const r=j/10;const y=Y(r);if(y<t||y>t+H)continue;const len=(j%5===0)?14:7;
      el(g,'line',{x1:x0,y1:y,x2:x0+len,y2:y,stroke:'#000','stroke-width':2},'y-tick',false);
      el(g,'line',{x1:x1,y1:y,x2:x1-len,y2:y,stroke:'#000','stroke-width':2},'y-tick-right',false);}
    [['1.5',1.5],['1',1],['0.5',0.5]].forEach(a=>{const tt=el(g,'text',{x:890,y:Y(a[1])+8,'font-size':21,'text-anchor':'end','class':'n'},'y-tick-label',false);tt.textContent=a[0];});
  });
  [0,2,4,6,8,10].forEach(v=>{const t=el(g,'text',{x:X(v),y:1174,'font-size':25,'text-anchor':'middle','class':'n'},'x-tick-label',false);t.textContent=String(v);});
})();
</script>
</body></html>
